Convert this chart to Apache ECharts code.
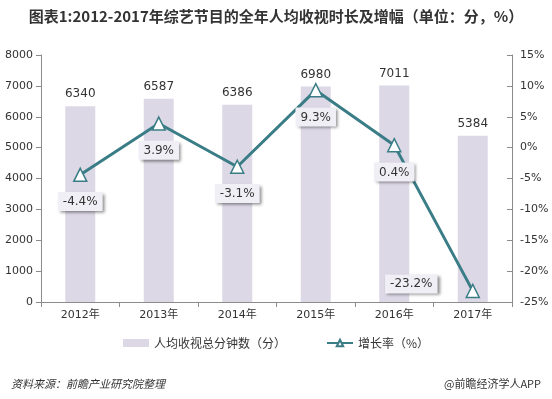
<!DOCTYPE html>
<html>
<head>
<meta charset="utf-8">
<script src="https://cdn.jsdelivr.net/npm/echarts@6/dist/echarts.min.js"></script>
<style>
  html, body { margin: 0; padding: 0; background: #fff; }
  #chart { width: 552px; height: 399px; }
</style>
</head>
<body>
<div id="chart"></div>
<script>
// 年份
const years = ['2012年', '2013年', '2014年', '2015年', '2016年', '2017年'];
// 人均收视总分钟数（分）
const minutes = [6340, 6587, 6386, 6980, 7011, 5384];
// 增长率（%）
const growth = [-4.4, 3.9, -3.1, 9.3, 0.4, -23.2];

const font = '"DejaVu Sans", "Noto Sans CJK SC", sans-serif';
const cjk = '"Noto Sans CJK SC", sans-serif';

let myChart = echarts.init(document.getElementById('chart'));
myChart.setOption({
  animation: false,
  title: [{
    text: '图表1:2012-2017年综艺节目的全年人均收视时长及增幅（单位：分，%）',
    left: 'center', top: 4,
    textStyle: { fontFamily: cjk, fontSize: 15, fontWeight: 'bold', color: '#333' }
  }, {
    text: '资料来源：前瞻产业研究院整理',
    left: 6, top: 373,
    textStyle: { fontFamily: cjk, fontSize: 11, fontWeight: 'normal', fontStyle: 'italic', color: '#333' }
  }, {
    text: '@前瞻经济学人APP',
    right: 6, top: 373,
    textStyle: { fontFamily: cjk, fontSize: 11, fontWeight: 'normal', color: '#333' }
  }],
  grid: { left: 41, right: 40, top: 55, bottom: 97 },
  legend: {
    bottom: 45, left: 'center', itemGap: 40,
    textStyle: { fontFamily: cjk, fontSize: 12, color: '#333' },
    data: [
      { name: '人均收视总分钟数（分）', icon: 'rect', itemStyle: { color: '#dcd8e6' } },
      { name: '增长率（%）' }
    ],
    itemWidth: 26, itemHeight: 8
  },
  xAxis: {
    type: 'category',
    data: years,
    axisLine: { lineStyle: { color: '#8c8c8c' } },
    axisTick: { show: true, alignWithLabel: false, lineStyle: { color: '#8c8c8c' } },
    axisLabel: { color: '#333', fontFamily: font, fontSize: 11, margin: 8 }
  },
  yAxis: [{
    type: 'value', min: 0, max: 8000, interval: 1000,
    axisLine: { show: true, lineStyle: { color: '#8c8c8c' } },
    axisTick: { show: true, lineStyle: { color: '#8c8c8c' } },
    splitLine: { show: false },
    axisLabel: { color: '#333', fontFamily: font, fontSize: 11, formatter: v => String(v) }
  }, {
    type: 'value', min: -25, max: 15, interval: 5,
    axisLine: { show: true, lineStyle: { color: '#8c8c8c' } },
    axisTick: { show: true, inside: true, lineStyle: { color: '#8c8c8c' } },
    splitLine: { show: false },
    axisLabel: { color: '#333', fontFamily: font, fontSize: 11, formatter: '{value}%' }
  }],
  series: [{
    name: '人均收视总分钟数（分）',
    type: 'bar',
    data: minutes,
    barWidth: 30,
    itemStyle: { color: '#dcd8e6' },
    label: { show: true, position: 'top', distance: 6, color: '#333', fontFamily: font, fontSize: 12 }
  }, {
    name: '增长率（%）',
    type: 'line',
    yAxisIndex: 1,
    data: growth.map((v, i) => ({
      value: v,
      label: i === 5 ? { position: 'left', distance: 28, offset: [0, -7] } : { position: 'bottom', distance: 10 }
    })),
    symbol: 'triangle',
    symbolSize: 13,
    lineStyle: { color: '#3a7d86', width: 3 },
    itemStyle: { color: '#ffffff', borderColor: '#3a7d86', borderWidth: 1.5 },
    label: {
      show: true,
      formatter: p => p.value + '%',
      color: '#333', fontFamily: font, fontSize: 12,
      backgroundColor: '#f1eff6',
      padding: [4, 5, 3, 5],
      shadowColor: 'rgba(0,0,0,0.45)', shadowBlur: 3, shadowOffsetX: 2, shadowOffsetY: 2
    }
  }]
});
</script>
</body>
</html>
